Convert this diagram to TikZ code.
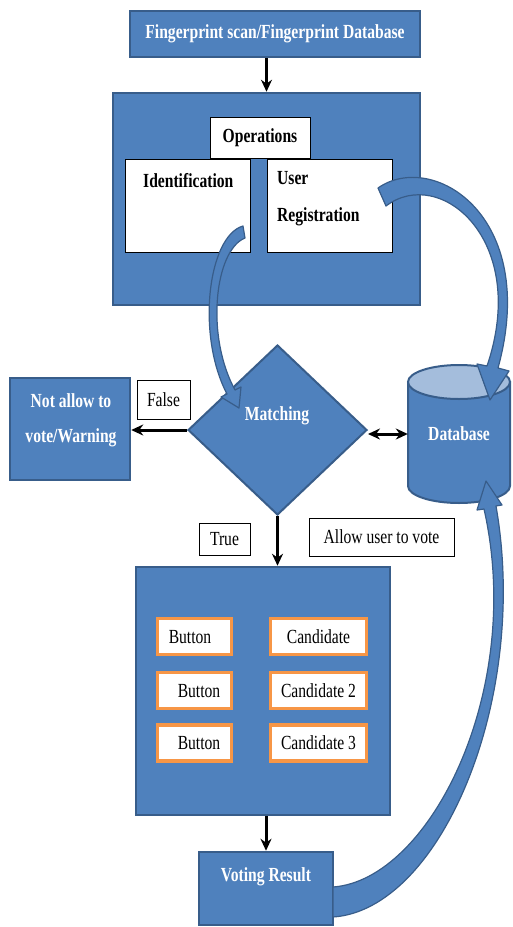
\documentclass[tikz,border=0pt]{standalone}
\usepackage{fontspec}
\setmainfont{Liberation Serif}[FakeStretch=0.78]
\usetikzlibrary{arrows.meta,shapes.geometric}
\definecolor{boxblue}{HTML}{4F81BD}
\definecolor{edgeblue}{HTML}{385D8A}
\definecolor{lidblue}{HTML}{A4BDDC}
\definecolor{btnorange}{HTML}{F79646}
\begin{document}
\begin{tikzpicture}[x=1pt, y=-1pt,
  bluebox/.style={rectangle, draw=edgeblue, fill=boxblue, line width=2.5pt, inner sep=0pt},
  whitebox/.style={rectangle, draw=black, fill=white, line width=1pt, inner sep=0pt,
                   font=\fontsize{20}{24}\selectfont},
  pickbox/.style={rectangle, draw=btnorange, fill=white, line width=3.5pt, inner sep=0pt,
                  minimum height=36pt},
  lbl/.style={inner sep=0pt, font=\fontsize{20}{24}\selectfont},
  blbl/.style={inner sep=0pt, font=\fontsize{20}{24}\selectfont\bfseries},
  wlbl/.style={blbl, text=white},
  flow/.style={-{Stealth[length=12pt,width=11pt]}, line width=3pt},
  flowboth/.style={{Stealth[length=12pt,width=11pt]}-{Stealth[length=12pt,width=11pt]}, line width=3pt},
  bandarrow/.style={fill=boxblue, draw=edgeblue, line width=1.2pt, line join=round}]

\useasboundingbox (0,0) rectangle (512,927);

% input stage
\node[bluebox, minimum width=290pt, minimum height=46pt, wlbl] (scan) at (275,34)
  {Fingerprint scan/Fingerprint Database};

% operations panel
\node[bluebox, minimum width=307pt, minimum height=212pt] (ops) at (266.5,199) {};
\node[whitebox, minimum width=125pt, minimum height=93pt] (ident) at (187.5,205.5) {};
\node[whitebox, minimum width=125pt, minimum height=93pt] (usreg) at (329.5,205.5) {};
\node[whitebox, minimum width=100pt, minimum height=41pt, font=\fontsize{20}{24}\selectfont\bfseries]
  (opname) at (260,137.5) {Operations};
\node[blbl, anchor=west] (identtext) at (143,181) {Identification};
\node[blbl, anchor=west, align=left, font=\fontsize{20}{37}\selectfont\bfseries]
  (usregtext) at (277,199) {User\\Registration};

% decision
\node[bluebox, minimum width=120pt, minimum height=102pt] (warn) at (70,429) {};
\node[wlbl, align=center, font=\fontsize{20}{35}\selectfont\bfseries]
  (warntext) at (71,420) {Not allow to\\vote/Warning};
\node[whitebox, minimum width=53pt, minimum height=39pt] (false) at (163.5,399.5) {False};
\node[diamond, draw=edgeblue, fill=boxblue, line width=2pt, inner sep=0pt,
      minimum width=179pt, minimum height=170pt] (match) at (277.5,430) {};
\node[wlbl] (matchtext) at (277,416) {Matching};

% database cylinder
\path[fill=boxblue, draw=edgeblue, line width=2pt]
  (408,382) -- (408,486) arc[start angle=180, end angle=360, x radius=51pt, y radius=17pt]
  -- (510,382) -- cycle;
\path[fill=lidblue, draw=edgeblue, line width=2pt] (459,382) ellipse[x radius=51pt, y radius=17pt];
\node[wlbl, minimum width=102pt, minimum height=138pt] (db) at (459,434) {Database};

% voting panel
\node[whitebox, minimum width=51pt, minimum height=32pt] (true) at (224.5,539) {True};
\node[whitebox, minimum width=145pt, minimum height=38pt] (allow) at (381.5,537) {Allow user to vote};
\node[bluebox, minimum width=254pt, minimum height=248pt] (vote) at (263,691) {};
\node[pickbox, minimum width=74pt] (btnA) at (194.5,636.5) {};
\node[pickbox, minimum width=74pt] (btnB) at (194.5,690.5) {};
\node[pickbox, minimum width=74pt] (btnC) at (194.5,743) {};
\node[lbl] (btnAtext) at (190,637) {Button};
\node[lbl] (btnBtext) at (199,691) {Button};
\node[lbl] (btnCtext) at (199,743.5) {Button};
\node[pickbox, minimum width=96pt, lbl] (candA) at (318.5,636.5) {Candidate};
\node[pickbox, minimum width=96pt, lbl] (candB) at (318.5,690.5) {Candidate 2};
\node[pickbox, minimum width=96pt, lbl] (candC) at (318.5,743) {Candidate 3};

% result
\node[bluebox, minimum width=134pt, minimum height=73pt] (result) at (266,888.5) {};
\node[wlbl] (resulttext) at (266,877) {Voting Result};

% straight connectors
\draw[flow] (ops.north |- scan.south) -- (ops.north);
\draw[flow] (match.west) -- (match.west -| warn.east);
\draw[flowboth] (db.west) -- (db.west -| match.east);
\draw[flow] (match.south) -- (match.south |- vote.north);
\draw[flow] (result.north |- vote.south) -- (result.north);

% curved block arrows
% identification -> matching
\path[bandarrow] (243,226) .. controls (208,236) and (196,335) .. (227,394)
  -- (221,397) -- (239,408) -- (241,387) -- (235,390)
  .. controls (205,335) and (215,250) .. (245,238) -- cycle;
% user registration -> database
\path[bandarrow] (378,188) .. controls (432,150) and (540,215) .. (498,368)
  -- (509,371) -- (490,400) -- (477,364) -- (487,366)
  .. controls (530,240) and (440,165) .. (386,206) -- cycle;
% voting result -> database
\path[bandarrow] (333,917) .. controls (440,910) and (530,700) .. (496,506)
  -- (502,505) -- (486,481) -- (477,510) -- (484,509)
  .. controls (525,690) and (430,880) .. (333,887) -- cycle;
\end{tikzpicture}
\end{document}
